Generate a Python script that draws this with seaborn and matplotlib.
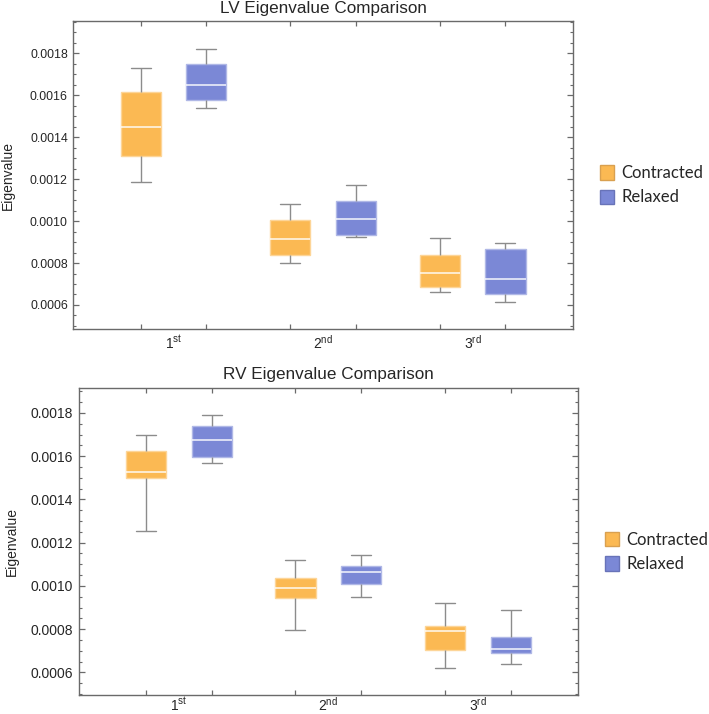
import numpy as np
import pandas as pd
import matplotlib
matplotlib.use("Agg")
import matplotlib.pyplot as plt
import seaborn as sns
from matplotlib.patches import Patch
from matplotlib.ticker import MultipleLocator, FormatStrFormatter
from matplotlib.colors import to_rgb

# ---------------- data (five-number summaries) ----------------
ordinals = ["1st", "2nd", "3rd"]
tick_labels = [r"1$^{\mathregular{st}}$", r"2$^{\mathregular{nd}}$", r"3$^{\mathregular{rd}}$"]
conditions = ["Contracted", "Relaxed"]
titles = ["LV Eigenvalue Comparison", "RV Eigenvalue Comparison"]

# [min, Q1, median, Q3, max] for 1st, 2nd, 3rd eigenvalue
lv_contracted = [
    [0.001188, 0.001312, 0.001449, 0.001616, 0.001731],
    [0.000799, 0.000840, 0.000915, 0.001007, 0.001083],
    [0.000661, 0.000687, 0.000751, 0.000838, 0.000918],
]
lv_relaxed = [
    [0.001538, 0.001576, 0.001647, 0.001748, 0.001820],
    [0.000926, 0.000934, 0.001011, 0.001097, 0.001171],
    [0.000616, 0.000654, 0.000723, 0.000866, 0.000896],
]
rv_contracted = [
    [0.001252, 0.001499, 0.001525, 0.001626, 0.001698],
    [0.000796, 0.000942, 0.000989, 0.001035, 0.001118],
    [0.000622, 0.000705, 0.000793, 0.000816, 0.000922],
]
rv_relaxed = [
    [0.001569, 0.001595, 0.001677, 0.001741, 0.001791],
    [0.000947, 0.001010, 0.001063, 0.001090, 0.001141],
    [0.000639, 0.000688, 0.000706, 0.000764, 0.000887],
]

colors = ["#FBB953", "#7B88D6"]
edge_colors = ["#D9A050", "#6873B8"]


def make_frame(contracted, relaxed):
    rows = []
    for cond, series in zip(conditions, [contracted, relaxed]):
        for ordv, vals in zip(ordinals, series):
            for v in vals:
                rows.append({"Eigen": ordv, "Condition": cond, "Eigenvalue": v})
    return pd.DataFrame(rows)


panels = [make_frame(lv_contracted, lv_relaxed), make_frame(rv_contracted, rv_relaxed)]

# ---------------- style ----------------
sns.set_theme(style="white")
plt.rcParams["font.family"] = ["Liberation Sans", "DejaVu Sans"]
plt.rcParams["mathtext.fontset"] = "custom"
plt.rcParams["mathtext.rm"] = "Liberation Sans"

fig = plt.figure(figsize=(7.09, 7.14), dpi=100)
axes_rects = [
    [0.1034, 0.5388, 0.7044, 0.4318],
    [0.1110, 0.0262, 0.7042, 0.4308],
]
ylims = [(0.000484, 0.001954), (0.000494, 0.001917)]
ytick_sizes = [8.9, 10.0]
xtick_sizes = [10.0, 10.0]
label_x = [-0.118, -0.120]
xpads = [3.0, 0.5]
legend_anchor = [(1.054, 0.467), (1.054, 0.466)]

WIDTH = 0.88
GAP = 0.39
spine_col = "#6a6a6a"
whisker_col = "#8c8c8c"

for i, df in enumerate(panels):
    ax = fig.add_axes(axes_rects[i])
    sns.boxplot(
        data=df, x="Eigen", y="Eigenvalue", hue="Condition",
        order=ordinals, hue_order=conditions, palette=colors,
        saturation=1, width=WIDTH, gap=GAP, whis=(0, 100), dodge=True,
        legend=False, ax=ax,
        boxprops=dict(linewidth=1.0),
        whiskerprops=dict(color=whisker_col, linewidth=1.0),
        capprops=dict(color=whisker_col, linewidth=1.0),
        medianprops=dict(color="white", alpha=0.85, linewidth=1.2),
    )
    # lighter box edges
    for p in ax.patches:
        fc = np.array(to_rgb(p.get_facecolor()[:3]))
        p.set_edgecolor(tuple(fc + (1 - fc) * 0.4))

    ax.set_xlim(-0.67, 2.67)
    ax.set_ylim(*ylims[i])
    ax.set_title(titles[i], fontsize=12.3, pad=6)
    ax.set_xlabel("")
    ax.set_ylabel("Eigenvalue", fontsize=10)
    ax.yaxis.set_label_coords(label_x[i], 0.5)

    # x ticks: labels at category centers, tick marks at each box
    ax.set_xticks(range(len(ordinals)))
    ax.set_xticklabels(tick_labels, fontsize=xtick_sizes[i])
    offs = WIDTH / 4
    ax.set_xticks([k + d for k in range(len(ordinals)) for d in (-offs, offs)], minor=True)
    ax.tick_params(axis="x", which="major", length=0, pad=xpads[i])
    ax.tick_params(axis="x", which="minor", direction="in", length=3.5, width=0.9,
                   top=True, bottom=True, color=spine_col)

    ax.yaxis.set_major_locator(MultipleLocator(0.0002))
    ax.yaxis.set_minor_locator(MultipleLocator(0.00005))
    ax.yaxis.set_major_formatter(FormatStrFormatter("%.4f"))
    ax.tick_params(axis="y", which="major", direction="in", length=4.5, width=0.9,
                   left=True, right=True, labelsize=ytick_sizes[i], color=spine_col, pad=4)
    ax.tick_params(axis="y", which="minor", direction="in", length=2.5, width=0.8,
                   left=True, right=True, color=spine_col)

    for s in ax.spines.values():
        s.set_color(spine_col)
        s.set_linewidth(1.0)

    handles = [Patch(facecolor=c, edgecolor=e, linewidth=1.0, label=l)
               for c, e, l in zip(colors, edge_colors, conditions)]
    ax.legend(handles=handles, loc="center left", bbox_to_anchor=legend_anchor[i],
              frameon=False, borderaxespad=0, borderpad=0,
              prop={"family": "Lato", "size": 12},
              handlelength=0.85, handleheight=0.95, handletextpad=0.45,
              labelspacing=0.5)

fig.savefig("out.png", dpi=100)
